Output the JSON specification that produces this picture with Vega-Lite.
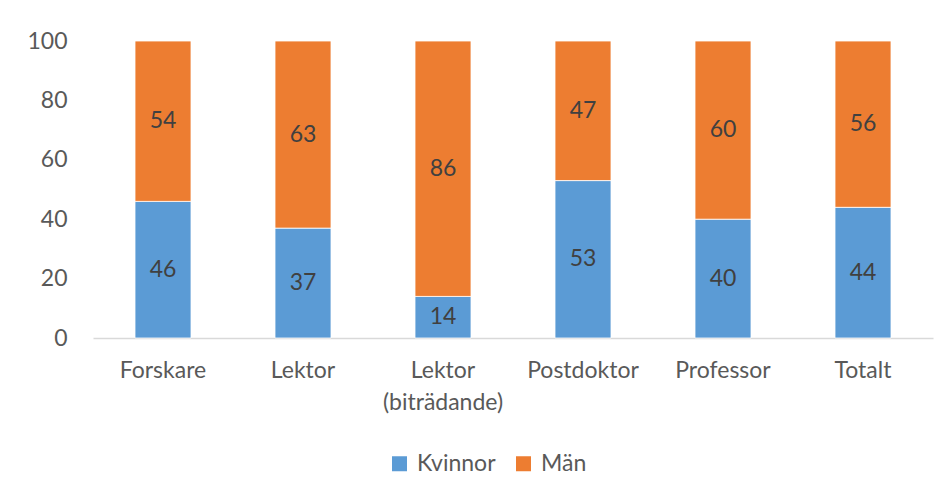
{
  "$schema": "https://vega.github.io/schema/vega-lite/v6.json",
  "autosize": {"type": "none"},
  "padding": {"left": 93, "top": 41, "right": 17, "bottom": 154},
  "width": 840,
  "height": 297,
  "background": "white",
  "data": {
    "values": [
      {"kategori": "Forskare", "kon": "Kvinnor", "andel": 46},
      {"kategori": "Forskare", "kon": "Män", "andel": 54},
      {"kategori": "Lektor", "kon": "Kvinnor", "andel": 37},
      {"kategori": "Lektor", "kon": "Män", "andel": 63},
      {"kategori": "Lektor (biträdande)", "kon": "Kvinnor", "andel": 14},
      {"kategori": "Lektor (biträdande)", "kon": "Män", "andel": 86},
      {"kategori": "Postdoktor", "kon": "Kvinnor", "andel": 53},
      {"kategori": "Postdoktor", "kon": "Män", "andel": 47},
      {"kategori": "Professor", "kon": "Kvinnor", "andel": 40},
      {"kategori": "Professor", "kon": "Män", "andel": 60},
      {"kategori": "Totalt", "kon": "Kvinnor", "andel": 44},
      {"kategori": "Totalt", "kon": "Män", "andel": 56}
    ]
  },
  "transform": [
    {"calculate": "datum.kon === 'Kvinnor' ? 0 : 1", "as": "ordning"},
    {"stack": "andel", "groupby": ["kategori"], "sort": [{"field": "ordning", "order": "ascending"}], "as": ["y0", "y1"]},
    {"calculate": "(datum.y0 + datum.y1) / 2", "as": "ymid"}
  ],
  "encoding": {
    "x": {
      "field": "kategori",
      "type": "nominal",
      "sort": null,
      "scale": {"paddingInner": 0.6, "paddingOuter": 0.3},
      "axis": {
        "title": null,
        "labelAngle": 0,
        "labelFont": "Lato",
        "labelFontSize": 23,
        "labelColor": "#595959",
        "labelPadding": 21,
        "ticks": false,
        "domainColor": "#D9D9D9",
        "domainWidth": 1.5,
        "labelLineHeight": 32,
        "labelExpr": "datum.value === 'Lektor (biträdande)' ? ['Lektor', '(biträdande)'] : datum.value"
      }
    }
  },
  "layer": [
    {
      "mark": {"type": "bar", "stroke": "white", "strokeWidth": 0.8},
      "encoding": {
        "y": {
          "field": "y0",
          "type": "quantitative",
          "scale": {"domain": [0, 100]},
          "axis": {
            "title": null,
            "values": [0, 20, 40, 60, 80, 100],
            "grid": false,
            "domain": false,
            "ticks": false,
            "labelFont": "Lato",
            "labelFontSize": 23,
            "labelColor": "#595959",
            "labelPadding": 26
          }
        },
        "y2": {"field": "y1"},
        "color": {
          "field": "kon",
          "type": "nominal",
          "sort": ["Kvinnor", "Män"],
          "scale": {"domain": ["Kvinnor", "Män"], "range": ["#5B9BD5", "#ED7D31"]},
          "legend": {
            "title": null,
            "orient": "none",
            "direction": "horizontal",
            "legendX": 295,
            "legendY": 411,
            "symbolType": "square",
            "symbolSize": 225,
            "symbolStrokeWidth": 0,
            "labelFont": "Lato",
            "labelFontSize": 23,
            "labelColor": "#595959",
            "columnPadding": 16,
            "labelOffset": 6
          }
        }
      }
    },
    {
      "mark": {"type": "text", "font": "Lato", "fontSize": 23, "color": "#404040", "baseline": "middle"},
      "encoding": {
        "y": {"field": "ymid", "type": "quantitative"},
        "text": {"field": "andel", "type": "quantitative"}
      }
    }
  ],
  "config": {"view": {"stroke": null}}
}
